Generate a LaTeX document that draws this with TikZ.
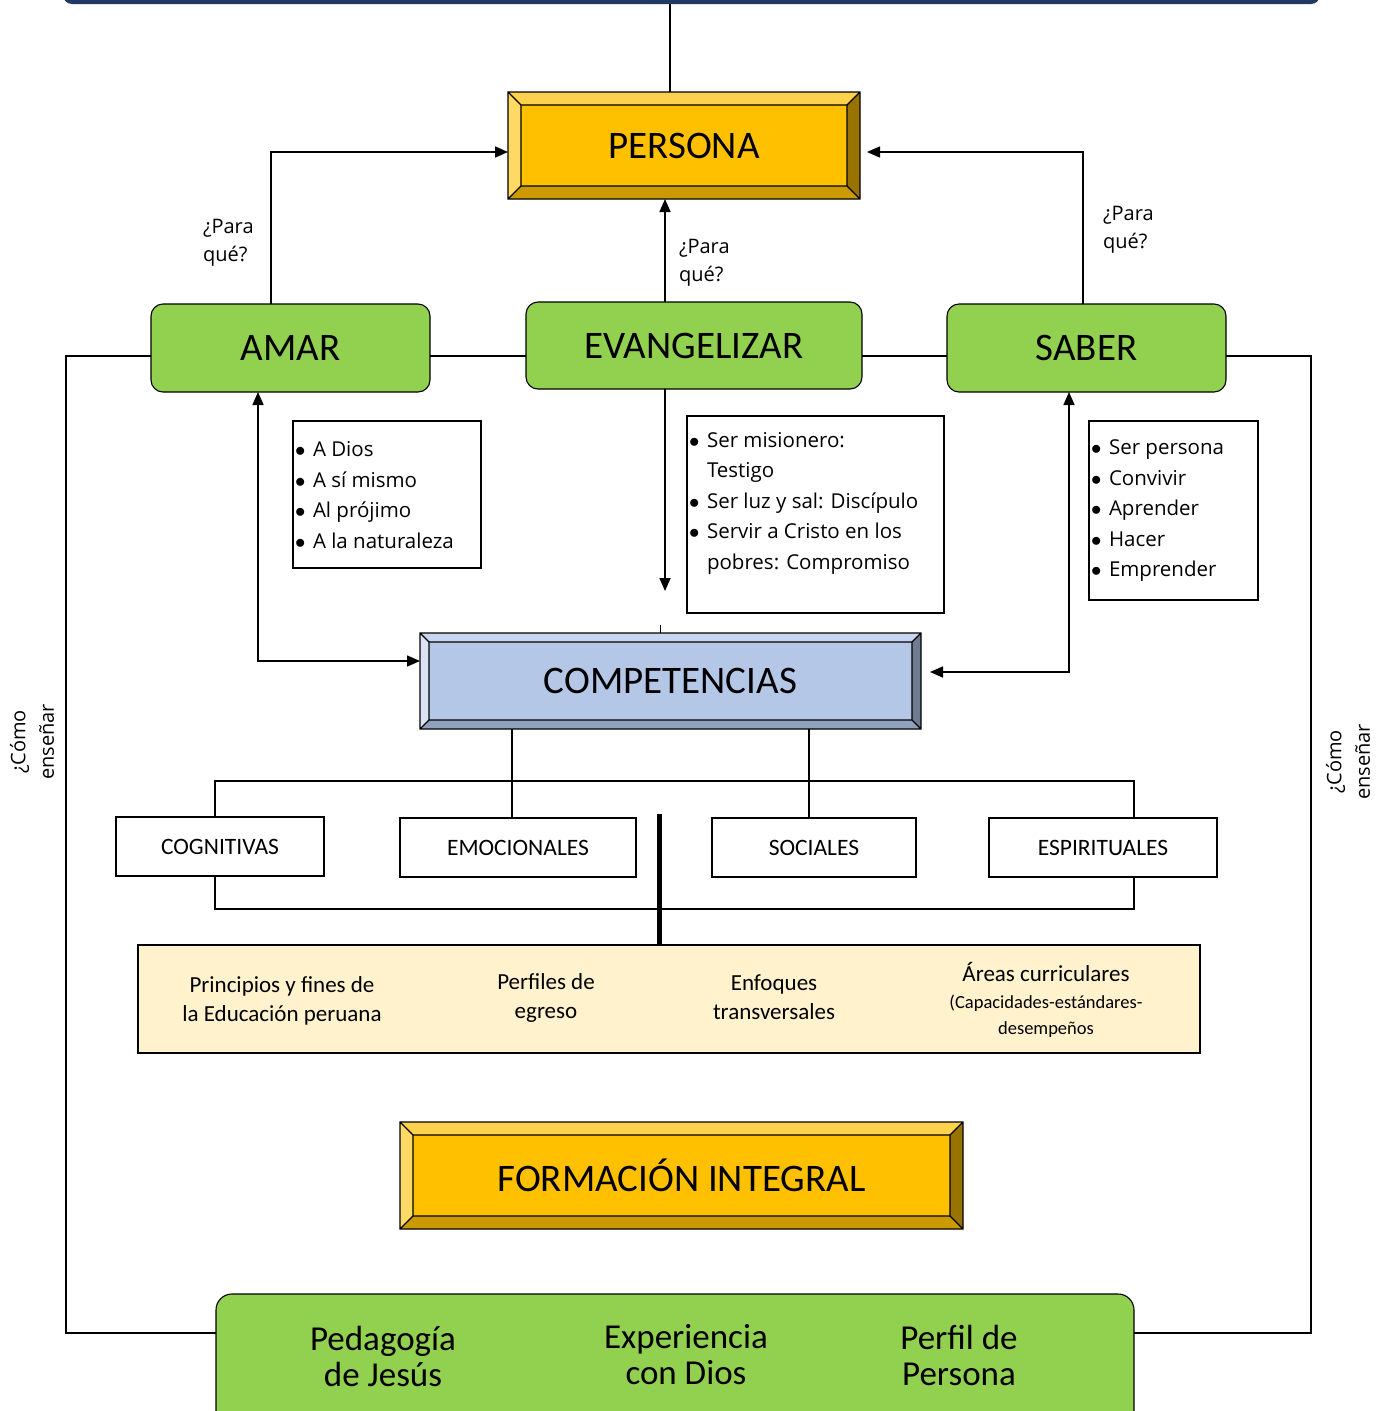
\documentclass[tikz,border=0pt]{standalone}
\usepackage{fontspec}
\setmainfont{Carlito}
\newfontfamily\listfont{Open Sans}
\usetikzlibrary{calc,arrows.meta}
\definecolor{navy}{HTML}{1F3864}
\definecolor{goldM}{HTML}{FFC000}
\definecolor{goldT}{HTML}{FFD24D}
\definecolor{goldL}{HTML}{FFD966}
\definecolor{goldB}{HTML}{CC9A00}
\definecolor{goldR}{HTML}{997300}
\definecolor{blueM}{HTML}{B4C7E7}
\definecolor{blueT}{HTML}{C7D5EE}
\definecolor{blueL}{HTML}{DAE3F3}
\definecolor{blueB}{HTML}{8FA1BC}
\definecolor{blueR}{HTML}{6E7B91}
\definecolor{cgreen}{HTML}{92D050}
\definecolor{tanc}{HTML}{FFF2CC}
\newcommand\bevelframe[3]{%
  \fill[#3T] (#1.north west) -- (#1.north east) -- ($(#1.north east)+(-#2,#2)$) -- ($(#1.north west)+(#2,#2)$) -- cycle;
  \fill[#3L] (#1.north west) -- ($(#1.north west)+(#2,#2)$) -- ($(#1.south west)+(#2,-#2)$) -- (#1.south west) -- cycle;
  \fill[#3B] (#1.south west) -- ($(#1.south west)+(#2,-#2)$) -- ($(#1.south east)+(-#2,-#2)$) -- (#1.south east) -- cycle;
  \fill[#3R] (#1.south east) -- ($(#1.south east)+(-#2,-#2)$) -- ($(#1.north east)+(-#2,#2)$) -- (#1.north east) -- cycle;
  \draw[line width=1.1pt] (#1.north west) rectangle (#1.south east)
     ($(#1.north west)+(#2,#2)$) rectangle ($(#1.south east)+(-#2,-#2)$)
     (#1.north west) -- ++(#2,#2) (#1.north east) -- ++(-#2,#2)
     (#1.south west) -- ++(#2,-#2) (#1.south east) -- ++(-#2,-#2);
}
\newcommand\bul{\makebox[18pt][l]{$\bullet$}}
\newcommand\indt{\hspace*{18pt}}
\tikzset{
  every node/.style={inner sep=0pt, outer sep=0pt},
  ln/.style={line width=1.6pt},
  tip/.tip={Triangle[length=13pt,width=11pt]},
  arr/.style={ln, -tip},
  dbl/.style={ln, tip-tip},
  brk/.style={line width=2.6pt},
  big/.style={font=\fontsize{39}{41}\selectfont},
  mid/.style={font=\fontsize{23}{28.5}\selectfont},
  smallbox/.style={font=\fontsize{23.5}{28}\selectfont},
  greenbox/.style={draw, line width=1.1pt, fill=cgreen, rounded corners=12pt, anchor=north west},
  bevbox/.style={anchor=north west},
  plainbox/.style={draw, line width=1.6pt, fill=white, anchor=north west, smallbox},
  listbox/.style={draw, line width=1.6pt, anchor=north west},
  listtext/.style={anchor=west, align=left, font=\listfont\fontsize{20.5}{30.5}\selectfont},
  qlabel/.style={align=left, font=\listfont\fontsize{20}{28.5}\selectfont},
  bottxt/.style={align=center, font=\fontsize{35}{36}\selectfont},
}
\begin{document}
\begin{tikzpicture}[x=1pt,y=-1pt]
\useasboundingbox (0,0) rectangle (1388,1411);
\clip (0,0) rectangle (1388,1411);
% top bar
\node[fill=navy, rounded corners=9pt, minimum width=1257pt, minimum height=30pt, anchor=south west] (bar) at (63,4) {};
% main boxes
\node[bevbox, fill=goldM, minimum width=352pt, minimum height=107pt, big] (persona) at (508,92) {PERSONA};
\bevelframe{persona}{13}{gold}
\node[greenbox, minimum width=279pt, minimum height=88pt, big] (amar) at (151,304) {AMAR};
\node[greenbox, minimum width=336pt, minimum height=87pt, big] (evang) at (526,302) {EVANGELIZAR};
\node[greenbox, minimum width=279pt, minimum height=88pt, big] (saber) at (947,304) {SABER};
% lists
\node[listbox, minimum width=188pt, minimum height=147pt] (l1) at (293,421) {};
\node[listtext] (l1t) at (295,495) {\bul A Dios\\\bul A sí mismo\\\bul Al prójimo\\\bul A la naturaleza};
\node[listbox, minimum width=257pt, minimum height=197pt] (l2) at (687,416) {};
\node[listtext] (l2t) at (689,503) {\bul Ser misionero:\\\indt Testigo\\\bul Ser luz y sal: Discípulo\\\bul Servir a Cristo en los\\\indt pobres: Compromiso};
\node[listbox, minimum width=169pt, minimum height=179pt] (l3) at (1089,421) {};
\node[listtext] (l3t) at (1091,511) {\bul Ser persona\\\bul Convivir\\\bul Aprender\\\bul Hacer\\\bul Emprender};
% question labels
\node[qlabel, anchor=west] (q1) at (203,243) {¿Para\\qué?};
\node[qlabel, anchor=west] (q2) at (679,263) {¿Para\\qué?};
\node[qlabel, anchor=west] (q3) at (1103,230) {¿Para\\qué?};
\node[qlabel, align=center, rotate=90] (c1) at (32,742) {¿Cómo\\enseñar};
\node[qlabel, align=center, rotate=90] (c2) at (1348,762) {¿Cómo\\enseñar};
% competencias
\node[bevbox, fill=blueM, minimum width=501pt, minimum height=96pt, big] (comp) at (420,633) {COMPETENCIAS};
\bevelframe{comp}{9}{blue}
% small boxes
\node[plainbox, minimum width=208pt, minimum height=59pt] (cogn) at (116,817) {COGNITIVAS};
\node[plainbox, minimum width=236pt, minimum height=59pt] (emoc) at (400,818) {EMOCIONALES};
\node[plainbox, minimum width=204pt, minimum height=59pt] (soci) at (712,818) {SOCIALES};
\node[plainbox, minimum width=228pt, minimum height=59pt] (espi) at (989,818) {ESPIRITUALES};
% tan box
\node[draw, fill=tanc, line width=1.6pt, minimum width=1062pt, minimum height=108pt, anchor=north west] (tanbox) at (138,945) {};
\node[mid, align=center] (t1) at (282,1001) {Principios y fines de\\la Educación peruana};
\node[mid, align=center] (t2) at (546,998) {Perfiles de\\egreso};
\node[mid, align=center] (t3) at (774,997) {Enfoques\\transversales};
\node[align=center, font=\fontsize{18.5}{26.5}\selectfont] (t4) at (1046,1000) {{\fontsize{23}{26.5}\selectfont Áreas curriculares}\\(Capacidades-estándares-\\desempeños};
% formacion
\node[bevbox, fill=goldM, minimum width=563pt, minimum height=107pt, big] (form) at (400,1122) {FORMACIÓN INTEGRAL};
\bevelframe{form}{13}{gold}
% bottom
\node[greenbox, rounded corners=16pt, minimum width=918pt, minimum height=150pt] (bot) at (216,1294) {};
\node[bottxt] (b1) at (383,1356) {Pedagogía\\de Jesús};
\node[bottxt] (b2) at (686,1355) {Experiencia\\con Dios};
\node[bottxt] (b3) at (959,1355) {Perfil de\\Persona};
% coordinates
\coordinate (L1) at (66,356);
\coordinate (R1) at (1311,356);
\coordinate (L2) at (66,1333);
\coordinate (R2) at (1311,1333);
\coordinate (evtip) at (665,591);
\coordinate (BT) at (0,781);
\coordinate (BB) at (0,909);
\coordinate (TK) at (659,814);
% connectors
\draw[ln] ([xshift=-14pt]persona.north) -- ([xshift=-14pt]persona.north |- bar.south);
\draw[arr] ([xshift=-19.5pt]amar.north) |- ([yshift=-6.5pt]persona.west);
\draw[arr, shorten >=7pt] ([xshift=-3.5pt]saber.north) |- ([yshift=-6.5pt]persona.east);
\draw[arr] ([xshift=-29pt]evang.north) -- ([xshift=-29pt]evang.north |- persona.south);
\draw[ln] (amar.west |- L1) -- (L1) -- (L2) -- (bot.west |- L2);
\draw[ln] (amar.east |- L1) -- (evang.west |- L1);
\draw[ln] (evang.east |- L1) -- (saber.west |- L1);
\draw[ln] (saber.east |- R1) -- (R1) -- (R2) -- (bot.east |- R2);
\draw[dbl] ([xshift=-32.5pt]amar.south) |- ([yshift=20pt]comp.west);
\draw[dbl, shorten >=9pt] ([xshift=-17.5pt]saber.south) |- ([yshift=9pt]comp.east);
\draw[arr] ([xshift=-29pt]evang.south) -- (evtip);
\draw[line width=1pt] ([xshift=-10.5pt]comp.north) -- ++(0,-8);
\draw[ln] ([xshift=-6pt]emoc.north) -- ([xshift=-6pt]emoc.north |- comp.south);
\draw[ln] ([xshift=-5pt]soci.north) -- ([xshift=-5pt]soci.north |- comp.south);
\draw[brk] ([xshift=-5pt]cogn.north) -- ([xshift=-5pt]cogn.north |- BT) -- ([xshift=31pt]espi.north |- BT) -- ([xshift=31pt]espi.north);
\draw[brk] ([xshift=-5pt]cogn.south) -- ([xshift=-5pt]cogn.south |- BB) -- ([xshift=31pt]espi.south |- BB) -- ([xshift=31pt]espi.south);
\draw[line width=5pt] ([xshift=-10pt]tanbox.north) -- (TK);
\end{tikzpicture}
\end{document}
